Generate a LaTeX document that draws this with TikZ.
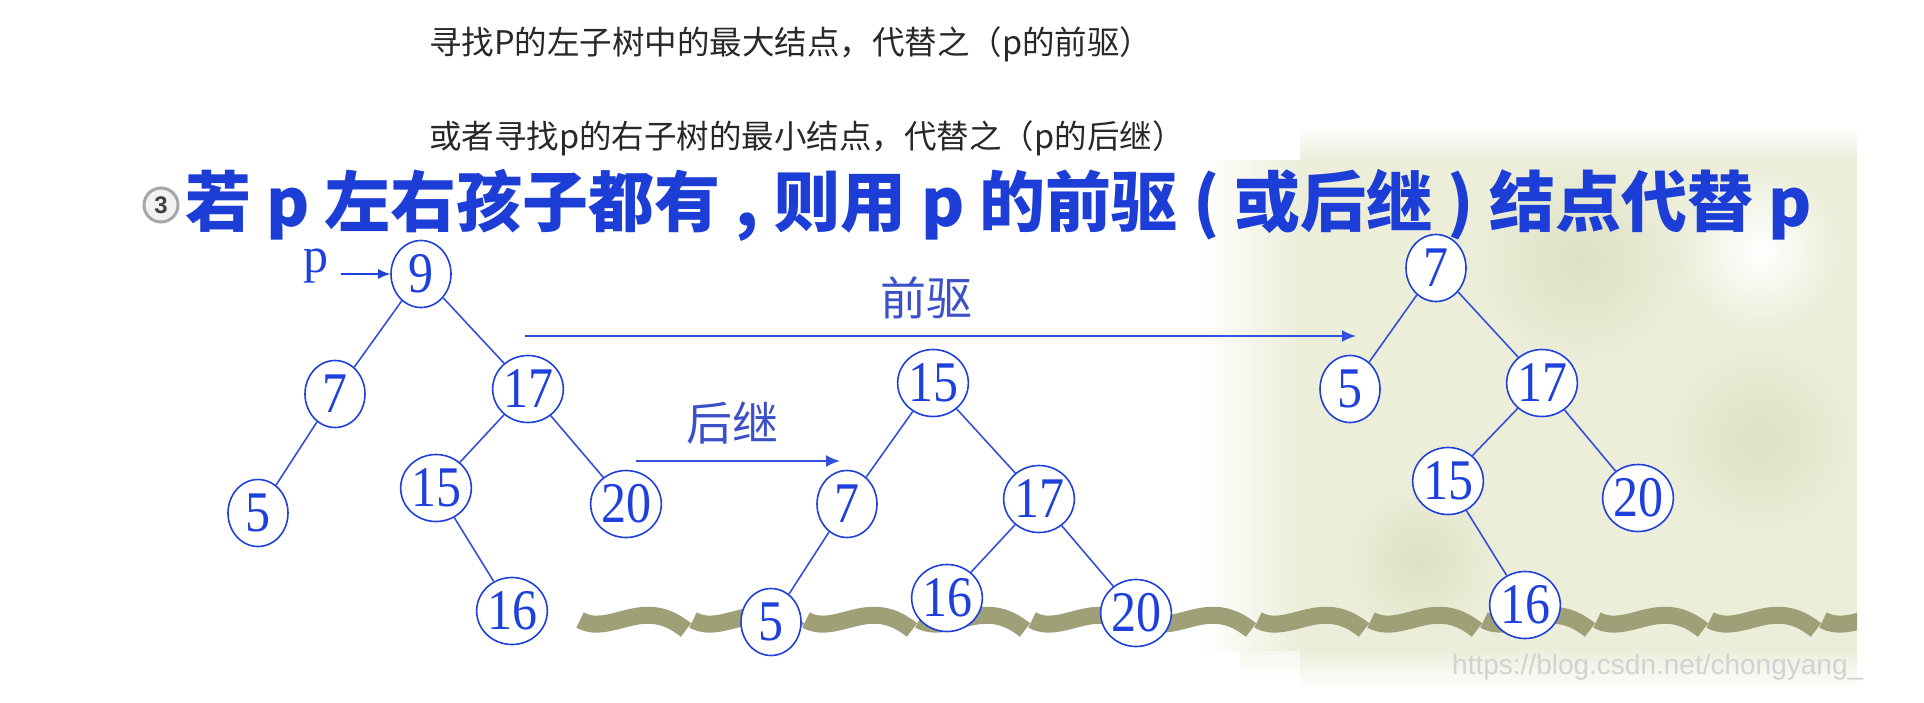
\documentclass[tikz,border=0pt]{standalone}
\usepackage{fontspec}
\usepackage{graphicx}
\setmainfont{Liberation Serif}
\newfontfamily\cjk{Noto Sans CJK SC}
\newfontfamily\wmfont{Liberation Sans}
\usetikzlibrary{shapes.geometric,arrows.meta}
\definecolor{tblue}{RGB}{28,62,214}
\definecolor{nblue}{RGB}{30,64,220}
\definecolor{eblue}{RGB}{50,80,220}
\definecolor{lblue}{RGB}{60,80,200}
\definecolor{olive}{RGB}{160,160,120}
\definecolor{bgol}{RGB}{222,225,194}
\definecolor{bglt}{RGB}{236,238,218}
\definecolor{txtgray}{RGB}{40,40,40}
\newcommand\nlab[1]{\scalebox{1}[1.15]{#1}}
\begin{document}
\begin{tikzpicture}[x=1pt,y=-1pt,
  tnode/.style={ellipse, draw=nblue, line width=1.6pt, fill=white, minimum width=60pt, minimum height=67pt, inner sep=0pt, text=nblue, font=\fontsize{50}{50}\selectfont},
  edge/.style={draw=eblue, line width=1.6pt},
  link/.style={draw=eblue, line width=2pt, -{Latex[length=14pt,width=12pt]}},
  wave/.style={draw=olive, line width=17pt},
  lab/.style={text=lblue, font=\cjk\fontsize{46}{46}\selectfont, inner sep=0pt},
  top/.style={anchor=west, text=txtgray, font=\cjk\fontsize{32.5}{32.5}\selectfont, inner sep=0pt},
]
\useasboundingbox (0,0) rectangle (1924,702);
% background wash
\fill[bglt] (1300,160) rectangle (1857,650);
\shade[left color=white, right color=bglt] (1200,160) rectangle (1300,650);
\shade[top color=white, bottom color=bglt] (1300,125) rectangle (1857,160);
\shade[top color=bglt, bottom color=white] (1300,650) rectangle (1857,690);
\shade[top color=bglt, bottom color=white, opacity=0.5] (1240,650) rectangle (1300,680);
\begin{scope}
\clip (1300,160) rectangle (1857,650);
\shade[inner color=bgol, outer color=bglt] (1580,260) circle (110);
\shade[inner color=bgol, outer color=bglt] (1760,440) circle (100);
\shade[inner color=bgol, outer color=bglt] (1420,560) circle (80);
\shade[inner color=white, outer color=bglt] (1760,250) circle (80);
\end{scope}
% wavy band
\begin{scope}
\clip (570,590) rectangle (1857,650);
\foreach \x in {580,693,806,919,1032,1145,1258,1371,1484,1597,1710,1823}
  \draw[wave] (\x,620) .. controls (\x+18,630) and (\x+38,619) .. (\x+58,616) .. controls (\x+78,613) and (\x+92,619) .. (\x+106,630);
\end{scope}
% watermark
\node[anchor=west, text=gray!35, font=\wmfont\fontsize{28}{28}\selectfont, inner sep=0pt] (wm) at (1452,667) {https://blog.csdn.net/chongyang\_};
% top texts
\node[top] (t1) at (429,44) {寻找P的左子树中的最大结点，代替之（p的前驱）};
\node[top] (t2) at (429,138) {或者寻找p的右子树的最小结点，代替之（p的后继）};
% title
\node[circle, draw=gray!70, line width=3pt, fill=gray!10, minimum size=34pt, inner sep=0pt, text=darkgray, font=\wmfont\bfseries\fontsize{24}{24}\selectfont] (c3) at (161,205) {3};
\node[anchor=west, text=tblue, font=\cjk\bfseries\fontsize{66}{66}\selectfont, inner sep=0pt] (title) at (185,205) {若 p 左右孩子都有 , 则用 p 的前驱 ( 或后继 ) 结点代替 p};
% tree 1
\node[tnode] (a9) at (421,274) {\nlab{9}};
\node[tnode] (a7) at (335,394) {\nlab{7}};
\node[tnode] (a17) at (528,389) {\nlab{17}};
\node[tnode] (a5) at (258,513) {\nlab{5}};
\node[tnode] (a15) at (436,488) {\nlab{15}};
\node[tnode] (a20) at (626,504) {\nlab{20}};
\node[tnode] (a16) at (512,611) {\nlab{16}};
\draw[edge] (a9) -- (a7);
\draw[edge] (a9) -- (a17);
\draw[edge] (a7) -- (a5);
\draw[edge] (a17) -- (a15);
\draw[edge] (a17) -- (a20);
\draw[edge] (a15) -- (a16);
% p pointer
\node[text=nblue, font=\fontsize{50}{50}\selectfont, inner sep=0pt] (plab) at (316,266) {p};
\coordinate (ps) at (341,274);
\draw[draw=nblue, line width=1.5pt, -{Latex[length=12pt,width=10pt]}] (ps) -- (a9.west);
% tree 2
\node[tnode] (b15) at (933,383) {\nlab{15}};
\node[tnode] (b7) at (847,504) {\nlab{7}};
\node[tnode] (b17) at (1039,499) {\nlab{17}};
\node[tnode] (b5) at (771,622) {\nlab{5}};
\node[tnode] (b16) at (947,598) {\nlab{16}};
\node[tnode] (b20) at (1136,613) {\nlab{20}};
\draw[edge] (b15) -- (b7);
\draw[edge] (b15) -- (b17);
\draw[edge] (b7) -- (b5);
\draw[edge] (b17) -- (b16);
\draw[edge] (b17) -- (b20);
% tree 3
\node[tnode] (c7) at (1436,268) {\nlab{7}};
\node[tnode] (c5) at (1350,389) {\nlab{5}};
\node[tnode] (c17) at (1542,383) {\nlab{17}};
\node[tnode] (c15) at (1448,481) {\nlab{15}};
\node[tnode] (c20) at (1638,498) {\nlab{20}};
\node[tnode] (c16) at (1525,605) {\nlab{16}};
\draw[edge] (c7) -- (c5);
\draw[edge] (c7) -- (c17);
\draw[edge] (c17) -- (c15);
\draw[edge] (c17) -- (c20);
\draw[edge] (c15) -- (c16);
% transformation arrows
\coordinate (q1) at (525,336);
\coordinate (q2) at (1356,336);
\draw[link] (q1) -- (q2);
\node[lab] (lq) at (926,298) {前驱};
\coordinate (h1) at (636,461);
\coordinate (h2) at (840,461);
\draw[link] (h1) -- (h2);
\node[lab] (lh) at (732,423) {后继};
\end{tikzpicture}
\end{document}
